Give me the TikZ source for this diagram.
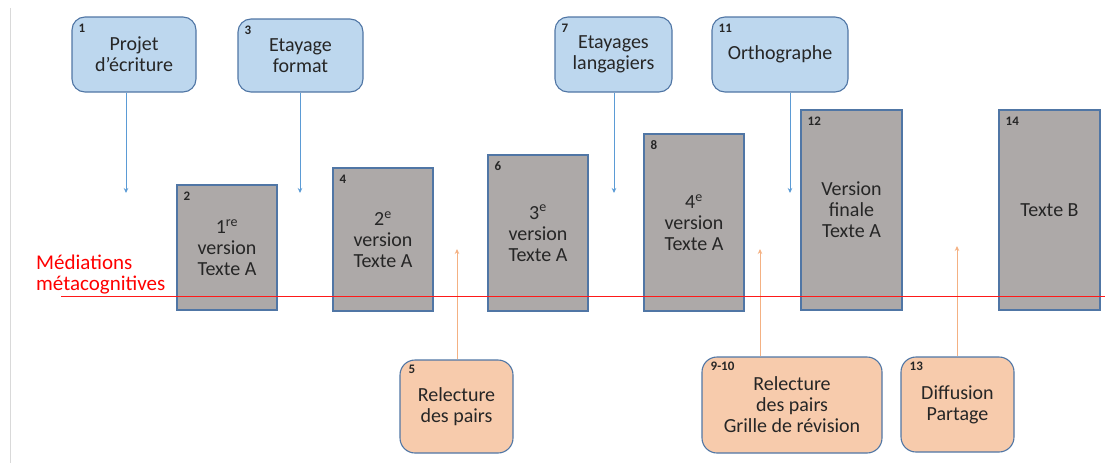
\documentclass[tikz,border=0pt]{standalone}
\usepackage{fontspec}
\setmainfont{Carlito}
\usepackage{tikz}
\definecolor{Bleu}{RGB}{189,215,238}
\definecolor{Gris}{RGB}{173,169,168}
\definecolor{Saumon}{RGB}{247,203,172}
\definecolor{Trait}{RGB}{80,118,165}
\definecolor{FlecheB}{RGB}{91,155,213}
\definecolor{FlecheO}{RGB}{244,177,131}
\definecolor{Encre}{RGB}{38,38,38}
\usetikzlibrary{positioning,arrows.meta}

\tikzset{
  boite/.style={draw=Trait, line width=1.1pt, text=Encre, align=center,
                inner sep=2pt, font=\fontsize{20}{21}\selectfont},
  aide/.style={boite, fill=Bleu, rounded corners=13pt},
  version/.style={boite, fill=Gris, minimum width=100pt},
  pairs/.style={boite, fill=Saumon, rounded corners=15pt},
  num/.style={font=\fontsize{13}{14}\selectfont\bfseries, text=Encre, inner sep=0pt},
  flb/.style={draw=FlecheB, line width=0.9pt, -{Stealth[length=5pt,width=4.5pt]}},
  flo/.style={draw=FlecheO, line width=0.9pt, -{Stealth[length=5pt,width=4.5pt]}}
}

\begin{document}
\begin{tikzpicture}[x=1pt,y=-1pt]
    \useasboundingbox (0,0) rectangle (1105,463);
    \draw[black!15, line width=1pt] (10,8) -- (10,463);

    % etayages
    \node[aide, minimum width=124pt, minimum height=75pt] (b1) at (134,54.5) {Projet\\d’écriture};
    \node[aide, minimum width=125pt, minimum height=73pt] (b3) at (300.5,55.5) {Etayage\\format};
    \node[aide, minimum width=117pt, minimum height=75pt] (b7) at (613.5,54.5) {Etayages\\langagiers};
    \node[aide, minimum width=136pt, minimum height=75pt] (b11) at (780,54.5) {Orthographe};
    \foreach \b/\n in {b1/1, b3/3, b7/7, b11/11}
        \node[num, below right=7pt and 7pt of \b.north west] {\n};

    % versions du texte
    \node[version, minimum height=125pt] (v2) at (227,247.5) {1\textsuperscript{re}\\version\\Texte A};
    \node[version, minimum height=143pt] (v4) at (383,239.5) {2\textsuperscript{e}\\version\\Texte A};
    \node[version, minimum height=156pt] (v6) at (538,233) {3\textsuperscript{e}\\version\\Texte A};
    \node[version, minimum height=177pt] (v8) at (694,222.5) {4\textsuperscript{e}\\version\\Texte A};
    \node[version, minimum width=101pt, minimum height=200pt] (v12) at (851.5,210) {Version\\finale\\Texte A};
    \node[version, minimum width=101pt, minimum height=200pt] (v14) at (1049.5,210) {Texte B};
    \foreach \b/\n in {v2/2, v4/4, v6/6, v8/8, v12/12, v14/14}
        \node[num, below right=7pt and 7pt of \b.north west] {\n};

    % relectures
    \node[pairs, minimum width=113pt, minimum height=93pt] (p5) at (456.5,406.5) {Relecture\\des pairs};
    \node[pairs, minimum width=180pt, minimum height=96pt] (p9) at (792,405) {Relecture\\des pairs\\Grille de révision};
    \node[pairs, minimum width=113pt, minimum height=95pt] (p13) at (957.5,404.5) {Diffusion\\Partage};
    \foreach \b/\n in {p5/5, p9/9-10, p13/13}
        \node[num, below right=5pt and 9pt of \b.north west] {\n};

    % fleches
    \coordinate (a1) at (126,193);
    \coordinate (a3) at (300,193);
    \coordinate (a7) at (614,193);
    \coordinate (a11) at (790,193);
    \foreach \b/\a in {b1/a1, b3/a3, b7/a7, b11/a11}
        \draw[flb] (\b.south -| \a) -- (\a);
    \coordinate (o5) at (457,249);
    \coordinate (o9) at (760,249);
    \coordinate (o13) at (957,246);
    \foreach \b/\a in {p5/o5, p9/o9, p13/o13}
        \draw[flo] (\b.north -| \a) -- (\a);

    % mediations
    \draw[red!90, line width=1pt] (61,296) -- (1105,296);
    \node[text=red, align=left, anchor=west, inner sep=0pt,
          font=\fontsize{21}{21}\selectfont] (med) at (36,275) {Médiations\\métacognitives};
\end{tikzpicture}
\end{document}
